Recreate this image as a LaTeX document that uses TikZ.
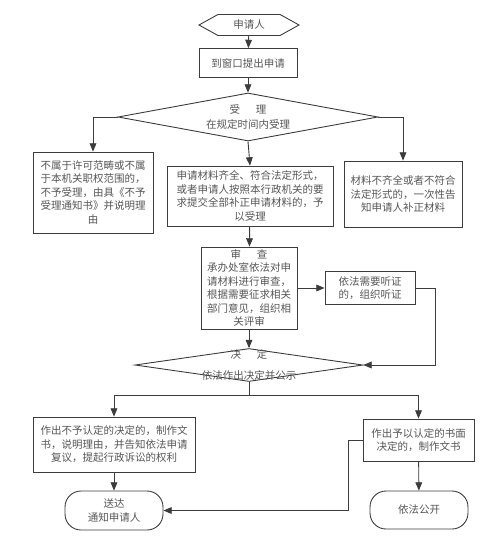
\documentclass[tikz,border=0pt]{standalone}
\usepackage{fontspec}
\newfontfamily\cjk{Noto Sans CJK SC}
\usetikzlibrary{shapes}
\usetikzlibrary{arrows}
\definecolor{inkgray}{RGB}{85,85,85}
\definecolor{linegray}{RGB}{60,60,60}

\begin{document}
\begin{tikzpicture}[x=1pt,y=-1pt]
		\tikzstyle{every node}=[font=\cjk\fontsize{10.5}{13.5}\selectfont,text=inkgray,align=center,inner sep=1pt]
		\tikzstyle{box}=[rectangle,draw=linegray,line width=0.9pt]
		\tikzstyle{choice}=[diamond,draw=linegray,line width=0.9pt,inner sep=0pt]
		\tikzstyle{finish}=[rectangle,rounded corners=16pt,draw=linegray,line width=0.9pt]
		\tikzstyle{arr}=[->,>=triangle 45,draw=linegray,line width=0.9pt]
		\useasboundingbox (0,0) rectangle (500,556);

		\node[signal,signal to=west and east,signal pointer angle=58,draw=linegray,line width=0.9pt,minimum width=100pt,minimum height=21pt](applicant) at (249,25) {申请人};
		\node[box,minimum width=98pt,minimum height=29pt](window) at (248,63) {到窗口提出申请};
		\node[choice,aspect=5.4,minimum width=260pt,minimum height=48pt](accept) at (248,117) {受\hspace{1.5em}理\\[1pt]在规定时间内受理};
		\node[box,minimum width=120pt,minimum height=81pt](reject) at (93,192.5) {不属于许可范畴或不属\\于本机关职权范围的，\\不予受理，由具《不予\\受理通知书》并说明理\\由};
		\node[box,minimum width=166pt,minimum height=60pt](accepted) at (250,196) {申请材料齐全、符合法定形式，\\或者申请人按照本行政机关的要\\求提交全部补正申请材料的，予\\以受理};
		\node[box,minimum width=118pt,minimum height=66pt](supplement) at (403,194) {材料不齐全或者不符合\\法定形式的，一次性告\\知申请人补正材料};
		\node[box,minimum width=96pt,minimum height=82pt](review) at (249,288) {审\hspace{1.5em}查\\承办处室依法对申\\请材料进行审查，\\根据需要征求相关\\部门意见，组织相\\关评审};
		\node[box,minimum width=90pt,minimum height=33pt](hearing) at (370,288) {依法需要听证\\的，组织听证};
		\node[choice,aspect=6.9,inner sep=-9pt,minimum width=228pt,minimum height=33pt](decide) at (249,365) {决\hspace{1.5em}定\\[7pt]依法作出决定并公示};
		\node[box,minimum width=162pt,minimum height=55pt](deny) at (114,444.5) {作出不予认定的决定的，制作文\\书，说明理由，并告知依法申请\\复议，提起行政诉讼的权利};
		\node[box,minimum width=111pt,minimum height=42pt](grant) at (418.5,440) {作出予以认定的书面\\决定的，制作文书};
		\node[finish,minimum width=98pt,minimum height=39pt](notify) at (114,510.5) {送达\\通知申请人};
		\node[finish,minimum width=98pt,minimum height=38pt](publish) at (419,510) {依法公开};
		\coordinate (split) at (249,395);

		\draw[arr] (applicant) -- (window);
		\draw[arr] (window) -- (accept);
		\draw[arr] (accept.west) -| (reject.north);
		\draw[arr] (accept.east) -| (supplement.north);
		\draw[arr] (accept.south) -- (accepted.north);
		\draw[arr] (accepted) -- (review);
		\draw[arr] (review.east) -- (hearing.west);
		\draw[arr] (hearing.east) -- ++(20,0) |- (decide.east);
		\draw[arr] (review.south) -- (decide.north);
		\draw[draw=linegray,line width=0.9pt] (decide.south) -- (split);
		\draw[arr] (split) -| (deny.north);
		\draw[arr] (split) -| (grant.north);
		\draw[arr] (deny) -- (notify);
		\draw[arr] (grant) -- (publish);
		\draw[arr] (grant.west) -- ++(-14,0) |- (notify.east);
\end{tikzpicture}
\end{document}
